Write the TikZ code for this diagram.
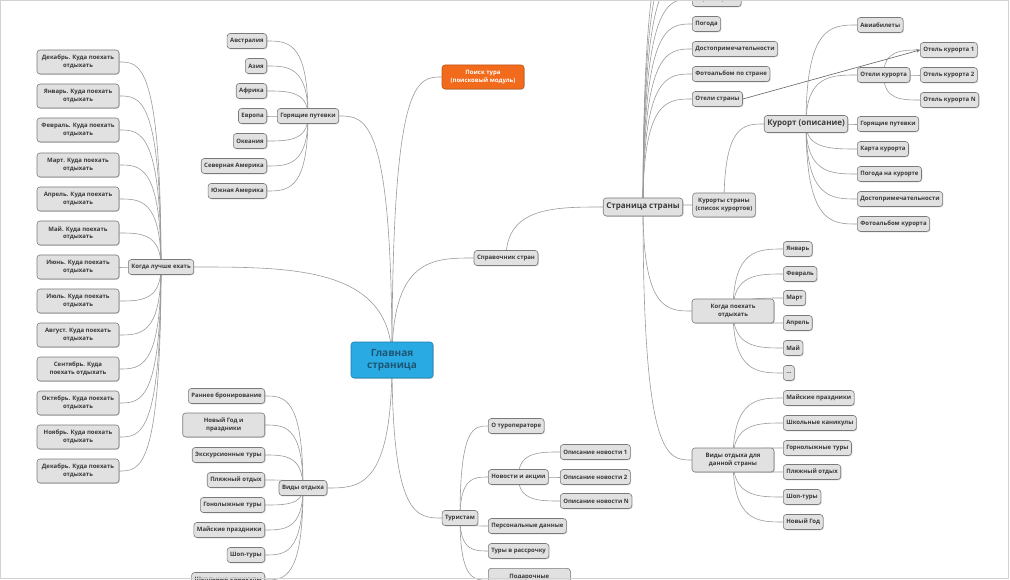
\documentclass[tikz,border=0pt]{standalone}
\usepackage{fontspec}
\setmainfont{Open Sans}
\usetikzlibrary{calc,shadows,backgrounds,arrows}
\definecolor{boxgray}{HTML}{E1E1E1}
\definecolor{boxline}{HTML}{7A7A7A}
\definecolor{linkgray}{HTML}{9A9A9A}
\definecolor{textgray}{HTML}{3A3A3A}
\definecolor{mainblue}{HTML}{2AAAE2}
\definecolor{mainline}{HTML}{1C7FAE}
\definecolor{maintext}{HTML}{1E5574}
\definecolor{searchorange}{HTML}{F26A1B}

\begin{document}
\begin{tikzpicture}[x=1pt,y=-1pt,>=stealth,
  topic/.style={rounded corners=3pt,draw=boxline,fill=boxgray,line width=0.6pt,
    drop shadow={shadow xshift=0.8pt,shadow yshift=-0.8pt,opacity=0.35},
    text=textgray,font=\bfseries\fontsize{6}{7.5}\selectfont,
    inner xsep=3pt,inner ysep=0pt,minimum height=15pt,align=center},
  two line/.style={topic,minimum width=82pt,minimum height=24pt},
  hub node/.style={topic,font=\bfseries\fontsize{8}{9}\selectfont,minimum height=18pt},
  main node/.style={topic,fill=mainblue,draw=mainline,text=maintext,
    font=\bfseries\fontsize{10}{12}\selectfont,minimum width=82pt,minimum height=36pt},
  search node/.style={two line,fill=searchorange,draw=searchorange!80!black,text=white},
  branch/.style={draw=linkgray,line width=0.6pt,
    to path={.. controls (\tikztostart |- \tikztotarget) and ($(\tikztostart |- \tikztotarget)!0.5!(\tikztotarget)$) .. (\tikztotarget)}}]
  \useasboundingbox (0,0) rectangle (1010,580);
  \clip (0,0) rectangle (1010,580);

  % centre and first level
  \node[main node] (glav) at (392,360) {Главная\\страница};
  \node[search node] (poisk) at (483,77) {Поиск тура\\(поисковый модуль)};
  \node[topic] (kogda) at (161,267) {Когда лучше ехать};
  \node[topic] (gor) at (308,116) {Горящие путевки};
  \node[topic] (vidy) at (303,488) {Виды отдыха};
  \node[topic] (sprav) at (506,258) {Справочник стран};
  \node[topic] (tur) at (460,518) {Туристам};

  % months
  \node[two line] (dec1) at (78,62) {Декабрь. Куда поехать\\отдыхать};
  \node[two line] (jan) at (78,96) {Январь. Куда поехать\\отдыхать};
  \node[two line] (feb) at (78,130) {Февраль. Куда поехать\\отдыхать};
  \node[two line] (mar) at (78,165) {Март. Куда поехать\\отдыхать};
  \node[two line] (apr) at (78,199) {Апрель. Куда поехать\\отдыхать};
  \node[two line] (may) at (78,233) {Май. Куда поехать\\отдыхать};
  \node[two line] (jun) at (78,267) {Июнь. Куда поехать\\отдыхать};
  \node[two line] (jul) at (78,301) {Июль. Куда поехать\\отдыхать};
  \node[two line] (aug) at (78,335) {Август. Куда поехать\\отдыхать};
  \node[two line] (sep) at (78,369) {Сентябрь. Куда\\поехать отдыхать};
  \node[two line] (oct) at (78,403) {Октябрь. Куда поехать\\отдыхать};
  \node[two line] (nov) at (78,437) {Ноябрь. Куда поехать\\отдыхать};
  \node[two line] (dec2) at (78,471) {Декабрь. Куда поехать\\отдыхать};

  % hot tours
  \node[topic,anchor=east] (avstr) at (267,41) {Австралия};
  \node[topic,anchor=east] (azia) at (267,66) {Азия};
  \node[topic,anchor=east] (afr) at (267,91) {Африка};
  \node[topic,anchor=east] (evr) at (267,116) {Европа};
  \node[topic,anchor=east] (okean) at (267,141) {Океания};
  \node[topic,anchor=east] (samer) at (267,166) {Северная Америка};
  \node[topic,anchor=east] (yamer) at (267,191) {Южная Америка};

  % kinds of rest
  \node[topic,anchor=east] (rann) at (265,396) {Раннее бронирование};
  \node[two line,anchor=east] (ngod) at (265,425) {Новый Год и\\праздники};
  \node[topic,anchor=east] (ekskur) at (265,455) {Экскурсионные туры};
  \node[topic,anchor=east] (plyazh) at (265,480) {Пляжный отдых};
  \node[topic,anchor=east] (gonol) at (265,505) {Гонолыжные туры};
  \node[topic,anchor=east] (mayp) at (265,530) {Майские праздники};
  \node[topic,anchor=east] (shop) at (265,555) {Шоп-туры};
  \node[topic,anchor=east] (shkol) at (265,580) {Школьные каникулы};

  % tourists
  \node[topic,anchor=west] (oturop) at (488,426) {О туроператоре};
  \node[topic,anchor=west] (novost) at (488,477) {Новости и акции};
  \node[topic,anchor=west] (person) at (488,526) {Персональные данные};
  \node[topic,anchor=west] (rassr) at (488,551) {Туры в рассрочку};
  \node[two line,anchor=north west] (podar) at (488,568) {Подарочные\\\mbox{}};
  \node[topic,anchor=west] (nov1) at (560,452) {Описание новости 1};
  \node[topic,anchor=west] (nov2) at (560,477) {Описание новости 2};
  \node[topic,anchor=west] (novN) at (560,501) {Описание новости N};

  % country page
  \node[hub node] (strana) at (643,207) {Страница страны};
  \coordinate (strup3) at (692,-76);
  \coordinate (strup2) at (692,-51);
  \coordinate (strup1) at (692,-26);
  \node[topic,anchor=west] (kartas) at (692,-1) {Карта страны};
  \node[topic,anchor=west] (pogoda) at (692,24) {Погода};
  \node[topic,anchor=west] (dosts) at (692,49) {Достопримечательности};
  \node[topic,anchor=west] (fotos) at (692,74) {Фотоальбом по стране};
  \node[topic,anchor=west] (otels) at (692,99) {Отели страны};
  \node[topic,minimum height=24pt] (kurorty) at (724,205) {Курорты страны\\(список курортов)};
  \node[two line] (kogda2) at (733,311) {Когда поехать\\отдыхать};
  \node[two line] (vidy2) at (733,460) {Виды отдыха для\\данной страны};

  % resort
  \node[hub node,minimum height=17pt] (kurort) at (806,124) {Курорт (описание)};
  \node[topic,anchor=west] (avia) at (857,25) {Авиабилеты};
  \node[topic,anchor=west] (otelk) at (857,75) {Отели курорта};
  \node[topic,anchor=west] (gork) at (857,124) {Горящие путевки};
  \node[topic,anchor=west] (kartak) at (857,149) {Карта курорта};
  \node[topic,anchor=west] (pogodak) at (857,174) {Погода на курорте};
  \node[topic,anchor=west] (dostk) at (857,199) {Достопримечательности};
  \node[topic,anchor=west] (fotok) at (857,224) {Фотоальбом курорта};
  \node[topic,anchor=west] (otel1) at (920,50) {Отель курорта 1};
  \node[topic,anchor=west] (otel2) at (920,75) {Отель курорта 2};
  \node[topic,anchor=west] (otelN) at (920,100) {Отель курорта N};

  % when to go
  \node[topic,anchor=west] (jan2) at (783,249) {Январь};
  \node[topic,anchor=west] (feb2) at (783,274) {Февраль};
  \node[topic,anchor=west] (mar2) at (783,298) {Март};
  \node[topic,anchor=west] (apr2) at (783,323) {Апрель};
  \node[topic,anchor=west] (may2) at (783,348) {Май};
  \node[topic,anchor=west] (etc2) at (783,373) {...};

  % kinds of rest in the country
  \node[topic,anchor=west] (mayp2) at (783,398) {Майские праздники};
  \node[topic,anchor=west] (shkol2) at (783,423) {Школьные каникулы};
  \node[topic,anchor=west] (gornol2) at (783,448) {Горнолыжные туры};
  \node[topic,anchor=west] (plyazh2) at (783,472) {Пляжный отдых};
  \node[topic,anchor=west] (shop2) at (783,497) {Шоп-туры};
  \node[topic,anchor=west] (ngod2) at (783,522) {Новый Год};

  \begin{pgfonlayer}{background}
    \path[every edge/.style=branch]
      (glav.center) edge (kogda.east)
      (glav.center) edge (gor.east)
      (glav.center) edge (vidy.east)
      (glav.center) edge (poisk.west)
      (glav.center) edge (sprav.west)
      (glav.center) edge (tur.west)
      (kogda.center) edge (dec1.east)
      (kogda.center) edge (jan.east)
      (kogda.center) edge (feb.east)
      (kogda.center) edge (mar.east)
      (kogda.center) edge (apr.east)
      (kogda.center) edge (may.east)
      (kogda.center) edge (jun.east)
      (kogda.center) edge (jul.east)
      (kogda.center) edge (aug.east)
      (kogda.center) edge (sep.east)
      (kogda.center) edge (oct.east)
      (kogda.center) edge (nov.east)
      (kogda.center) edge (dec2.east)
      (gor.center) edge (avstr.east)
      (gor.center) edge (azia.east)
      (gor.center) edge (afr.east)
      (gor.center) edge (evr.east)
      (gor.center) edge (okean.east)
      (gor.center) edge (samer.east)
      (gor.center) edge (yamer.east)
      (vidy.center) edge (rann.east)
      (vidy.center) edge (ngod.east)
      (vidy.center) edge (ekskur.east)
      (vidy.center) edge (plyazh.east)
      (vidy.center) edge (gonol.east)
      (vidy.center) edge (mayp.east)
      (vidy.center) edge (shop.east)
      (vidy.center) edge (shkol.east)
      (tur.center) edge (oturop.west)
      (tur.center) edge (novost.west)
      (tur.center) edge (person.west)
      (tur.center) edge (rassr.west)
      (tur.center) edge (podar.west)
      (novost.center) edge (nov1.west)
      (novost.center) edge (nov2.west)
      (novost.center) edge (novN.west)
      (sprav.center) edge (strana.west)
      (strana.center) edge (strup3)
      (strana.center) edge (strup2)
      (strana.center) edge (strup1)
      (strana.center) edge (kartas.west)
      (strana.center) edge (pogoda.west)
      (strana.center) edge (dosts.west)
      (strana.center) edge (fotos.west)
      (strana.center) edge (otels.west)
      (strana.center) edge (kurorty.west)
      (strana.center) edge (kogda2.west)
      (strana.center) edge (vidy2.west)
      (kurorty.center) edge (kurort.west)
      (kurort.center) edge (avia.west)
      (kurort.center) edge (otelk.west)
      (kurort.center) edge (gork.west)
      (kurort.center) edge (kartak.west)
      (kurort.center) edge (pogodak.west)
      (kurort.center) edge (dostk.west)
      (kurort.center) edge (fotok.west)
      (otelk.center) edge (otel1.west)
      (otelk.center) edge (otel2.west)
      (otelk.center) edge (otelN.west)
      (kogda2.center) edge (jan2.west)
      (kogda2.center) edge (feb2.west)
      (kogda2.center) edge (mar2.west)
      (kogda2.center) edge (apr2.west)
      (kogda2.center) edge (may2.west)
      (kogda2.center) edge (etc2.west)
      (vidy2.center) edge (mayp2.west)
      (vidy2.center) edge (shkol2.west)
      (vidy2.center) edge (gornol2.west)
      (vidy2.center) edge (plyazh2.west)
      (vidy2.center) edge (shop2.west)
      (vidy2.center) edge (ngod2.west)
    ;
  \end{pgfonlayer}

  \draw[->,draw=textgray!80,line width=0.6pt] (otels.east) -- (otel1.west);
  \draw[gray!35] (0.5,0.5) rectangle (1008,578);
\end{tikzpicture}
\end{document}
